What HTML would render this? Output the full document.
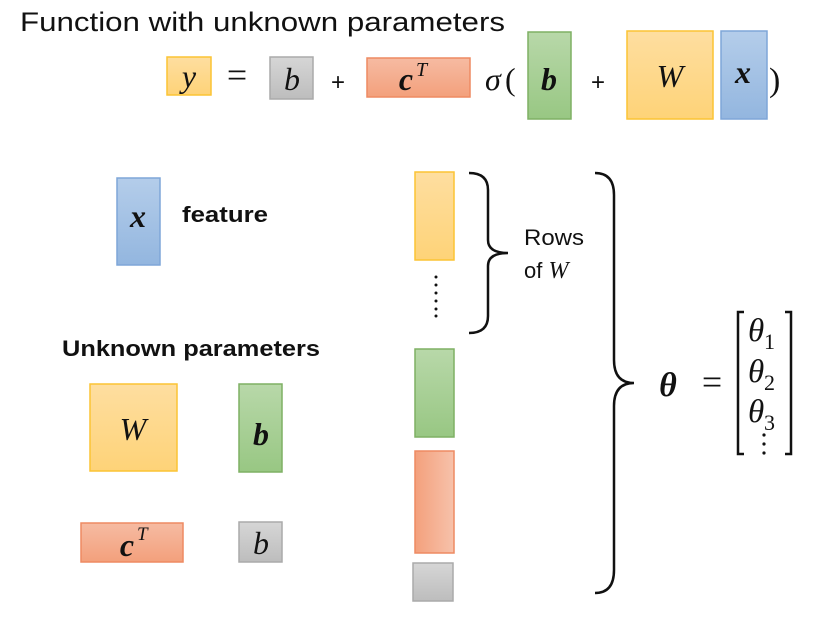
<!DOCTYPE html>
<html><head><meta charset="utf-8"><style>
body{margin:0;background:#fff;width:822px;height:628px;overflow:hidden}
</style></head><body>
<svg width="822" height="628" xmlns="http://www.w3.org/2000/svg">
<defs>
<linearGradient id="yl" x1="0" y1="0" x2="0" y2="1"><stop offset="0" stop-color="#fedea0"/><stop offset="1" stop-color="#fed378"/></linearGradient>
<linearGradient id="gr" x1="0" y1="0" x2="0" y2="1"><stop offset="0" stop-color="#b8d8a9"/><stop offset="1" stop-color="#98c783"/></linearGradient>
<linearGradient id="bl" x1="0" y1="0" x2="0" y2="1"><stop offset="0" stop-color="#b4cdea"/><stop offset="1" stop-color="#93b6df"/></linearGradient>
<linearGradient id="orv" x1="0" y1="0" x2="0" y2="1"><stop offset="0" stop-color="#f6bba2"/><stop offset="1" stop-color="#f3a07c"/></linearGradient>
<linearGradient id="orh" x1="0" y1="0" x2="1" y2="0"><stop offset="0" stop-color="#f3a07c"/><stop offset="1" stop-color="#f7c2ab"/></linearGradient>
<linearGradient id="gy" x1="0" y1="0" x2="0" y2="1"><stop offset="0" stop-color="#d6d6d6"/><stop offset="1" stop-color="#bdbdbd"/></linearGradient>
</defs>
<g font-family="Liberation Sans, sans-serif">
<text x="20" y="31" font-size="27" fill="#111" textLength="485" lengthAdjust="spacingAndGlyphs">Function with unknown parameters</text>
</g>
<g stroke-width="1.5">
<rect x="167" y="57" width="44" height="38" fill="url(#yl)" stroke="#fcc434"/>
<rect x="270" y="57" width="43" height="42" fill="url(#gy)" stroke="#aaa"/>
<rect x="367" y="58" width="103" height="39" fill="url(#orv)" stroke="#ee8a62"/>
<rect x="528" y="32" width="43" height="87" fill="url(#gr)" stroke="#7fb064"/>
<rect x="627" y="31" width="86" height="88" fill="url(#yl)" stroke="#fcc434"/>
<rect x="721" y="31" width="46" height="88" fill="url(#bl)" stroke="#7ea6d8"/>

<rect x="117" y="178" width="43" height="87" fill="url(#bl)" stroke="#7ea6d8"/>
<rect x="90" y="384" width="87" height="87" fill="url(#yl)" stroke="#fcc434"/>
<rect x="239" y="384" width="43" height="88" fill="url(#gr)" stroke="#7fb064"/>
<rect x="81" y="523" width="102" height="39" fill="url(#orv)" stroke="#ee8a62"/>
<rect x="239" y="522" width="43" height="40" fill="url(#gy)" stroke="#aaa"/>

<rect x="415" y="172" width="39" height="88" fill="url(#yl)" stroke="#fcc434"/>
<rect x="415" y="349" width="39" height="88" fill="url(#gr)" stroke="#7fb064"/>
<rect x="415" y="451" width="39" height="102" fill="url(#orh)" stroke="#ee8a62"/>
<rect x="413" y="563" width="40" height="38" fill="url(#gy)" stroke="#aaa"/>
</g>
<g fill="#111" font-family="Liberation Serif, serif">
<text x="189" y="87" font-size="32" font-style="italic" text-anchor="middle">y</text>
<text x="237" y="87" font-size="36" text-anchor="middle">=</text>
<text x="292" y="90" font-size="32" font-style="italic" text-anchor="middle">b</text>
<text x="338" y="90" font-size="24" font-family="Liberation Sans, sans-serif" text-anchor="middle">+</text>
<text x="406" y="90" font-size="32" font-style="italic" font-weight="bold" text-anchor="middle">c</text>
<text x="416" y="76" font-size="20" font-style="italic">T</text>
<text x="485" y="90" font-size="32" font-style="italic">σ</text>
<text x="505" y="90" font-size="32">(</text>
<text x="549" y="90" font-size="32" font-style="italic" font-weight="bold" text-anchor="middle">b</text>
<text x="598" y="90" font-size="24" font-family="Liberation Sans, sans-serif" text-anchor="middle">+</text>
<text x="670" y="87" font-size="32" font-style="italic" text-anchor="middle">W</text>
<text x="743" y="83" font-size="32" font-style="italic" font-weight="bold" text-anchor="middle">x</text>
<text x="769" y="91" font-size="34">)</text>

<text x="138" y="227" font-size="32" font-style="italic" font-weight="bold" text-anchor="middle">x</text>
<text x="133" y="440" font-size="32" font-style="italic" text-anchor="middle">W</text>
<text x="261" y="445" font-size="32" font-style="italic" font-weight="bold" text-anchor="middle">b</text>
<text x="127" y="556" font-size="32" font-style="italic" font-weight="bold" text-anchor="middle">c</text>
<text x="137" y="540" font-size="19" font-style="italic">T</text>
<text x="261" y="554" font-size="32" font-style="italic" text-anchor="middle">b</text>

<text x="668" y="396" font-size="34" font-style="italic" font-weight="bold" text-anchor="middle">θ</text>
<text x="712" y="394" font-size="36" text-anchor="middle">=</text>
<text x="748" y="341" font-size="33" font-style="italic">θ</text><text x="764" y="349" font-size="22">1</text>
<text x="748" y="382" font-size="33" font-style="italic">θ</text><text x="764" y="390" font-size="22">2</text>
<text x="748" y="422" font-size="33" font-style="italic">θ</text><text x="764" y="430" font-size="22">3</text>
</g>
<g font-family="Liberation Sans, sans-serif" fill="#111">
<text x="182" y="222" font-size="22" font-weight="bold" textLength="86" lengthAdjust="spacingAndGlyphs">feature</text>
<text x="62" y="356" font-size="22" font-weight="bold" textLength="258" lengthAdjust="spacingAndGlyphs">Unknown parameters</text>
<text x="524" y="245" font-size="22" textLength="60" lengthAdjust="spacingAndGlyphs">Rows</text>
<text x="524" y="278" font-size="22">of <tspan font-family="Liberation Serif, serif" font-style="italic" font-size="24">W</tspan></text>
</g>
<g fill="#111">
<circle cx="436" cy="277" r="1.5"/><circle cx="436" cy="285" r="1.5"/><circle cx="436" cy="293" r="1.5"/><circle cx="436" cy="301" r="1.5"/><circle cx="436" cy="309" r="1.5"/><circle cx="436" cy="316" r="1.5"/>
<circle cx="764" cy="435" r="1.6"/><circle cx="764" cy="444" r="1.6"/><circle cx="764" cy="453" r="1.6"/>
</g>
<g fill="none" stroke="#111" stroke-width="2.5">
<path d="M469,173 Q488,173 488,190 L488,240 Q488,253 508,253 Q488,253 488,266 L488,316 Q488,333 469,333"/>
<path d="M595,173 Q614,173 614,195 L614,360 Q614,383 634,383 Q614,383 614,406 L614,570 Q614,593 595,593"/>
<path d="M744,312 L738,312 L738,454 L744,454"/>
<path d="M785,312 L791,312 L791,454 L785,454"/>
</g>
</svg>
</body></html>
